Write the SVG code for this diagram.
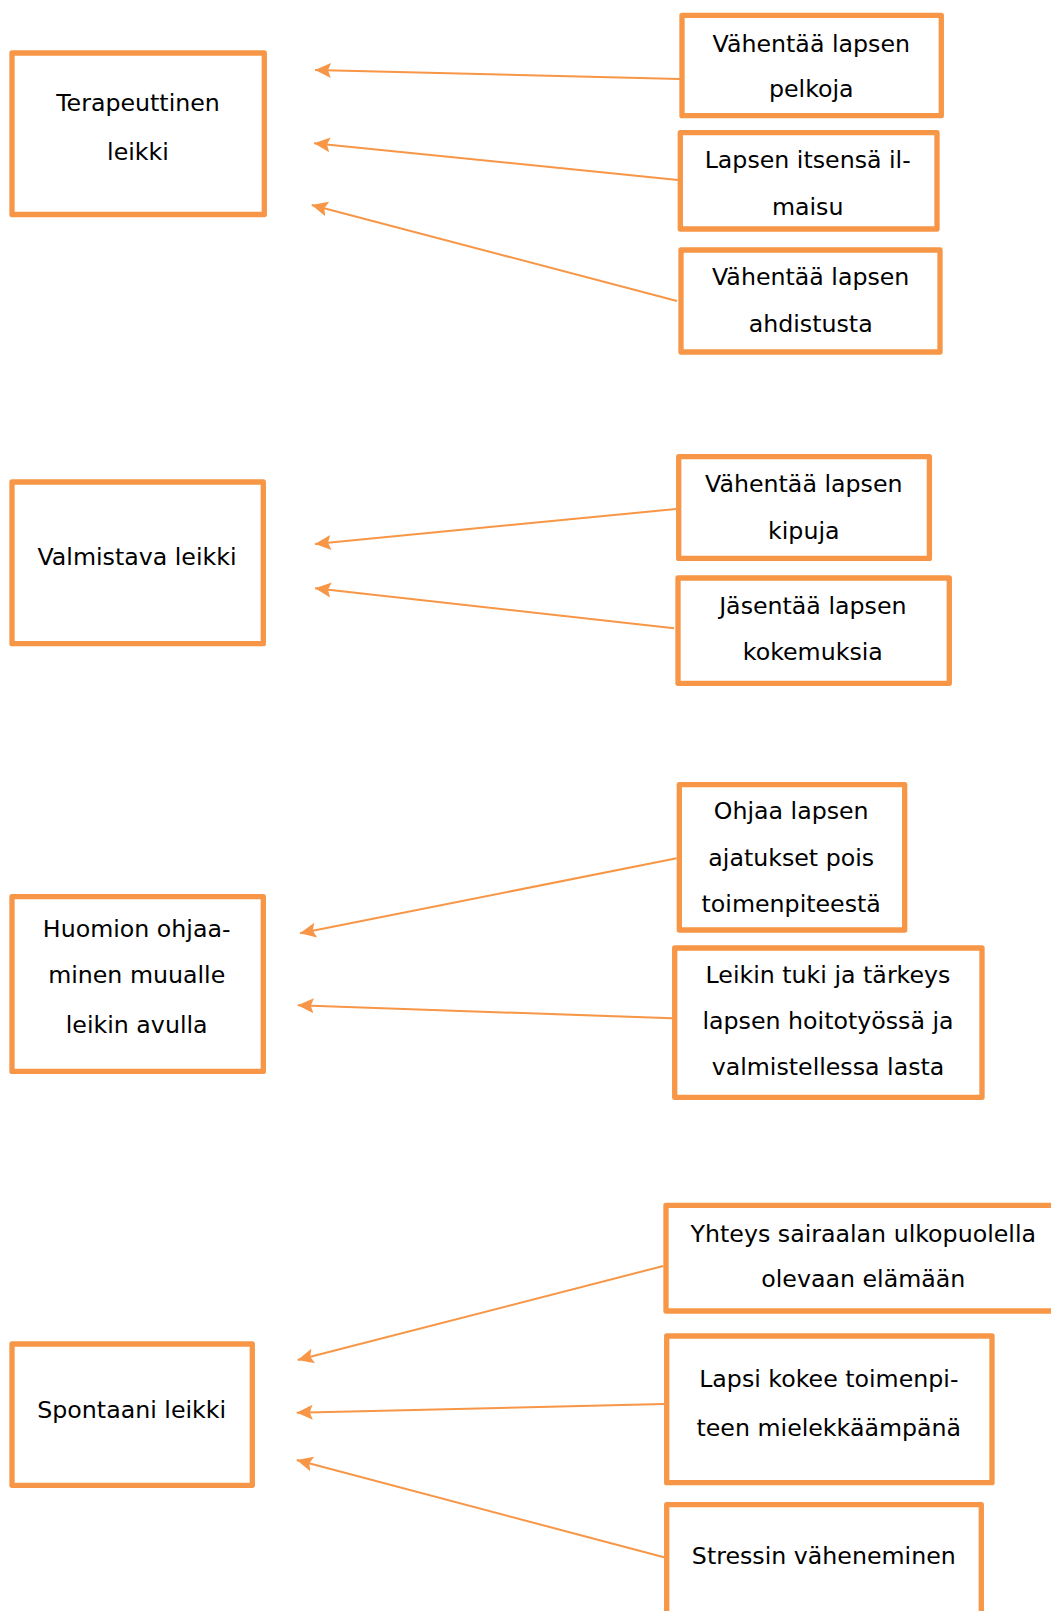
<svg xmlns="http://www.w3.org/2000/svg" width="1051" height="1611" viewBox="0 0 1051 1611">
<style>
.box{fill:#fff;stroke:#F79646;stroke-width:5.3;stroke-linejoin:round}
.t{font-family:"DejaVu Sans",Verdana,sans-serif;font-size:23.7px;fill:#000;text-anchor:middle}
.c{stroke:#F79646;stroke-width:2;fill:none;marker-end:url(#ah)}
</style>
<defs>
<marker id="ah" markerUnits="userSpaceOnUse" viewBox="0 -8 16 16" refX="16" refY="0" markerWidth="16" markerHeight="16" orient="auto">
<path d="M16,0 L0,-7.5 L3,0 L0,7.5 Z" fill="#F79646"/>
</marker>
</defs>
<rect width="1051" height="1611" fill="#fff"/>
<g id="connectors">
<line class="c" x1="680" y1="79" x2="315" y2="70"/>
<line class="c" x1="678" y1="180" x2="314" y2="143.3"/>
<line class="c" x1="677" y1="301" x2="311.7" y2="205"/>
<line class="c" x1="676" y1="509" x2="315" y2="544"/>
<line class="c" x1="674" y1="628.3" x2="315" y2="588.3"/>
<line class="c" x1="676.7" y1="858.3" x2="300" y2="933.3"/>
<line class="c" x1="672.3" y1="1018.3" x2="297.7" y2="1005.3"/>
<line class="c" x1="663.3" y1="1266" x2="297.7" y2="1360"/>
<line class="c" x1="664" y1="1404" x2="296.7" y2="1412.7"/>
<line class="c" x1="664" y1="1557.3" x2="296.7" y2="1460"/>
</g>
<g id="terapeuttinen">
<rect class="box" x="12" y="53" width="252.3" height="161.5"/>
<text class="t" x="138" y="111">Terapeuttinen</text>
<text class="t" x="138" y="160">leikki</text>
</g>
<g id="pelkoja">
<rect class="box" x="682" y="15.3" width="259.3" height="100.4"/>
<text class="t" x="811.3" y="51.7">Vähentää lapsen</text>
<text class="t" x="811.3" y="96.5">pelkoja</text>
</g>
<g id="ilmaisu">
<rect class="box" x="680.3" y="132.7" width="256.7" height="96.3"/>
<text class="t" x="807.7" y="168.3">Lapsen itsensä il-</text>
<text class="t" x="807.7" y="215">maisu</text>
</g>
<g id="ahdistusta">
<rect class="box" x="681" y="250" width="259" height="102"/>
<text class="t" x="810.7" y="285">Vähentää lapsen</text>
<text class="t" x="810.7" y="331.7">ahdistusta</text>
</g>
<g id="valmistava">
<rect class="box" x="12" y="482" width="251.3" height="161.7"/>
<text class="t" x="137" y="565">Valmistava leikki</text>
</g>
<g id="kipuja">
<rect class="box" x="678.7" y="456.7" width="250.7" height="101.7"/>
<text class="t" x="803.8" y="492.3">Vähentää lapsen</text>
<text class="t" x="803.8" y="539">kipuja</text>
</g>
<g id="kokemuksia">
<rect class="box" x="678" y="578" width="271.3" height="105.3"/>
<text class="t" x="812.8" y="614">Jäsentää lapsen</text>
<text class="t" x="812.8" y="660">kokemuksia</text>
</g>
<g id="huomion">
<rect class="box" x="12" y="896.7" width="251.3" height="174.7"/>
<text class="t" x="136.7" y="936.7">Huomion ohjaa-</text>
<text class="t" x="136.7" y="983.3">minen muualle</text>
<text class="t" x="136.7" y="1033">leikin avulla</text>
</g>
<g id="ohjaa">
<rect class="box" x="679.3" y="784.7" width="225.4" height="145.3"/>
<text class="t" x="791.2" y="819.3">Ohjaa lapsen</text>
<text class="t" x="791.2" y="865.7">ajatukset pois</text>
<text class="t" x="791.2" y="911.7">toimenpiteestä</text>
</g>
<g id="leikin-tuki">
<rect class="box" x="674.7" y="948" width="307.3" height="149.3"/>
<text class="t" x="828" y="982.7">Leikin tuki ja tärkeys</text>
<text class="t" x="828" y="1029.3">lapsen hoitotyössä ja</text>
<text class="t" x="828" y="1075">valmistellessa lasta</text>
</g>
<g id="spontaani">
<rect class="box" x="12" y="1344" width="240.3" height="141.3"/>
<text class="t" x="131.7" y="1418.3">Spontaani leikki</text>
</g>
<g id="yhteys">
<rect class="box" x="666" y="1205.3" width="400" height="105.7"/>
<text class="t" x="863.3" y="1241.7">Yhteys sairaalan ulkopuolella</text>
<text class="t" x="863.3" y="1287.3">olevaan elämään</text>
</g>
<g id="lapsi-kokee">
<rect class="box" x="666.7" y="1336" width="325.3" height="146.7"/>
<text class="t" x="828.8" y="1386.7">Lapsi kokee toimenpi-</text>
<text class="t" x="828.8" y="1436">teen mielekkäämpänä</text>
</g>
<g id="stressin">
<rect class="box" x="666.7" y="1504.7" width="314.6" height="140"/>
<text class="t" x="823.8" y="1564">Stressin väheneminen</text>
</g>
</svg>
